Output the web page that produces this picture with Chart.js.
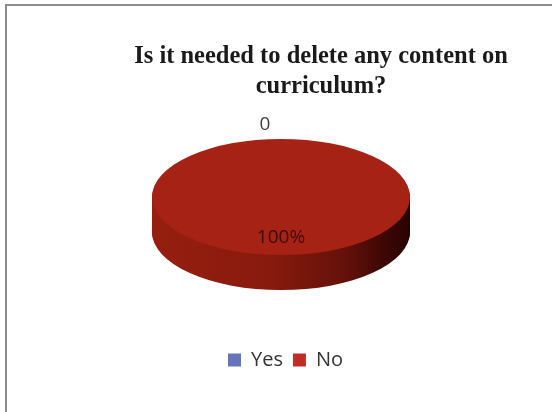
<!DOCTYPE html>
<html>
<head>
<meta charset="utf-8">
<script src="https://cdn.jsdelivr.net/npm/chart.js@4.4.1/dist/chart.umd.min.js"></script>
<style>
  html, body { margin: 0; padding: 0; background: #fff; width: 552px; height: 412px; overflow: hidden; }
  #wrap { position: relative; width: 552px; height: 412px; overflow: hidden; }
  #c { position: absolute; left: 0; top: 0; }
  #title {
    position: absolute; left: 0; top: 40px; width: 552px; box-sizing: border-box;
    padding-left: 90px; text-align: center;
    font-family: "Liberation Serif", "Times New Roman", serif; font-weight: bold;
    font-size: 24.5px; line-height: 30px; color: #1a1a1a;
  }
  #frame {
    position: absolute; left: 5px; top: 4px; width: 580px; height: 440px;
    border: 2px solid #8c8c8c; pointer-events: none;
  }
</style>
</head>
<body>
<div id="wrap">
  <canvas id="c" width="552" height="412"></canvas>
  <div id="title">Is it needed to delete any content on<br>curriculum?</div>
  <div id="frame"></div>
</div>
<script>
// ---- data ----
const titleText = ['Is it needed to delete any content on', 'curriculum?'];
const categories = ['Yes', 'No'];
const responses = [0, 100];
const valueLabels = ['0', '100%'];

// ---- styles ----
const faceColors = ['#5f6db5', '#a52215'];
const legendColors = ['#6673bb', '#bf2d26'];

const pie3d = {
  id: 'pie3d',
  beforeDatasetsDraw(chart, args, opts) {
    const ctx = chart.ctx;
    const arcs = chart.getDatasetMeta(0).data;
    if (!arcs.length) return;
    const a0 = arcs[0];
    const cx = a0.x, cy = a0.y, r = a0.outerRadius;
    const s = opts.tilt, T = opts.depth, dx = opts.offsetX;
    const g = ctx.createLinearGradient(cx - r, 0, cx + r, 0);
    g.addColorStop(0, '#961f0f');
    g.addColorStop(0.45, '#881a0d');
    g.addColorStop(0.75, '#64110a');
    g.addColorStop(0.92, '#380604');
    g.addColorStop(1, '#280302');
    for (let d = T; d > 0; d--) {
      ctx.save();
      ctx.translate(cx + dx, cy - T / 2 + d);
      ctx.scale(1, s);
      ctx.translate(-cx, -cy);
      arcs.forEach(arc => {
        const prev = arc.options.backgroundColor;
        arc.options.backgroundColor = g;
        arc.draw(ctx);
        arc.options.backgroundColor = prev;
      });
      ctx.restore();
    }
    ctx.save();
    ctx.translate(cx + dx, cy - T / 2);
    ctx.scale(1, s);
    ctx.translate(-cx, -cy);
  },
  afterDatasetsDraw(chart, args, opts) {
    const ctx = chart.ctx;
    ctx.restore();
    const arcs = chart.getDatasetMeta(0).data;
    if (!arcs.length) return;
    const s = opts.tilt, T = opts.depth, dx = opts.offsetX;
    ctx.save();
    ctx.font = '19px "Open Sans", sans-serif';
    ctx.textAlign = 'center';
    ctx.textBaseline = 'middle';
    arcs.forEach((arc, i) => {
      const cx = arc.x + dx, cy = arc.y - T / 2, r = arc.outerRadius;
      const mid = (arc.startAngle + arc.endAngle) / 2;
      let x, y;
      if (arc.endAngle - arc.startAngle < 1e-6) {
        x = cx + Math.cos(mid) * r + opts.outsideNudge;
        y = cy + Math.sin(mid) * r * s - 14;
        ctx.fillStyle = '#404040';
      } else {
        x = cx + Math.cos(mid) * r * 0.7;
        y = cy + Math.sin(mid) * r * 0.7 * s;
        ctx.fillStyle = '#3c0c06';
      }
      ctx.fillText(valueLabels[i], x, y);
    });
    ctx.restore();
  }
};

new Chart(document.getElementById('c'), {
  type: 'pie',
  data: {
    labels: categories,
    datasets: [{
      data: responses,
      backgroundColor: faceColors,
      borderWidth: 0,
      radius: 129,
      clip: false
    }]
  },
  options: {
    responsive: false,
    animation: false,
    events: [],
    layout: { padding: { top: 89, bottom: 32, left: 19, right: 0 } },
    plugins: {
      title: { display: false, text: titleText },
      tooltip: { enabled: false },
      legend: {
        position: 'bottom',
        labels: {
          boxWidth: 13,
          boxHeight: 13,
          padding: 10,
          color: '#333',
          font: { family: '"Open Sans", sans-serif', size: 20 },
          generateLabels(chart) {
            const items = Chart.overrides.pie.plugins.legend.labels.generateLabels(chart);
            items.forEach((it, i) => { it.fillStyle = legendColors[i]; it.strokeStyle = legendColors[i]; it.lineWidth = 0; });
            return items;
          }
        }
      },
      pie3d: { tilt: 0.45, depth: 35, offsetX: -4.5, outsideNudge: -16 }
    }
  },
  plugins: [pie3d]
});
</script>
</body>
</html>
